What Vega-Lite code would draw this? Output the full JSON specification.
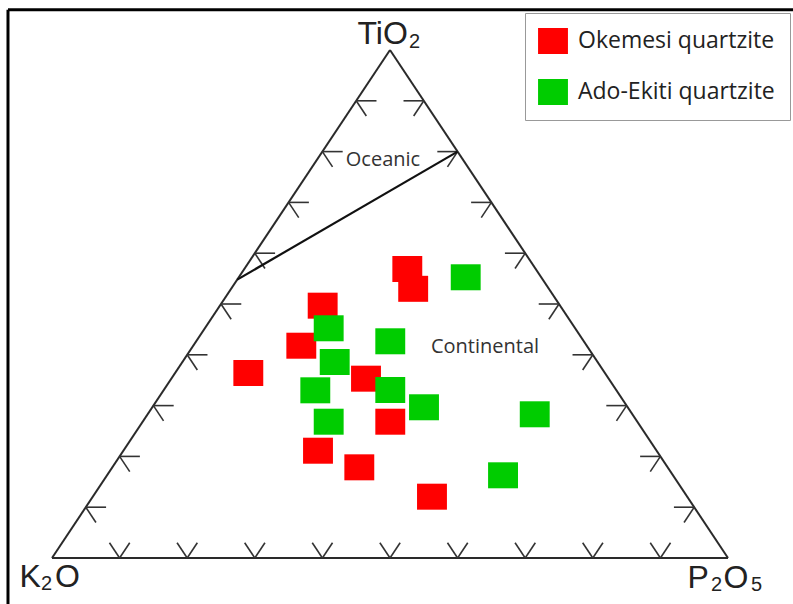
{
  "$schema": "https://vega.github.io/schema/vega-lite/v6.json",
  "width": 793,
  "height": 604,
  "padding": 0,
  "autosize": {"type": "none"},
  "background": "white",
  "config": {"view": {"stroke": null}},
  "datasets": {
    "frame": [
      {"x": -6.51, "y": 107.93, "x2": -6.51, "y2": -9.06},
      {"x": -6.51, "y": 107.93, "x2": 109.62, "y2": 107.93}
    ],
    "edges": [
      {"x": 0, "y": 0, "x2": 100, "y2": 0},
      {"x": 0, "y": 0, "x2": 50, "y2": 100},
      {"x": 100, "y": 0, "x2": 50, "y2": 100}
    ],
    "ticks": [
      {"x": 10, "y": 0, "x2": 8.5, "y2": 3}, {"x": 10, "y": 0, "x2": 11.5, "y2": 3},
      {"x": 20, "y": 0, "x2": 18.5, "y2": 3}, {"x": 20, "y": 0, "x2": 21.5, "y2": 3},
      {"x": 30, "y": 0, "x2": 28.5, "y2": 3}, {"x": 30, "y": 0, "x2": 31.5, "y2": 3},
      {"x": 40, "y": 0, "x2": 38.5, "y2": 3}, {"x": 40, "y": 0, "x2": 41.5, "y2": 3},
      {"x": 50, "y": 0, "x2": 48.5, "y2": 3}, {"x": 50, "y": 0, "x2": 51.5, "y2": 3},
      {"x": 60, "y": 0, "x2": 58.5, "y2": 3}, {"x": 60, "y": 0, "x2": 61.5, "y2": 3},
      {"x": 70, "y": 0, "x2": 68.5, "y2": 3}, {"x": 70, "y": 0, "x2": 71.5, "y2": 3},
      {"x": 80, "y": 0, "x2": 78.5, "y2": 3}, {"x": 80, "y": 0, "x2": 81.5, "y2": 3},
      {"x": 90, "y": 0, "x2": 88.5, "y2": 3}, {"x": 90, "y": 0, "x2": 91.5, "y2": 3},
      {"x": 5, "y": 10, "x2": 8, "y2": 10}, {"x": 5, "y": 10, "x2": 6.5, "y2": 7},
      {"x": 10, "y": 20, "x2": 13, "y2": 20}, {"x": 10, "y": 20, "x2": 11.5, "y2": 17},
      {"x": 15, "y": 30, "x2": 18, "y2": 30}, {"x": 15, "y": 30, "x2": 16.5, "y2": 27},
      {"x": 20, "y": 40, "x2": 23, "y2": 40}, {"x": 20, "y": 40, "x2": 21.5, "y2": 37},
      {"x": 25, "y": 50, "x2": 28, "y2": 50}, {"x": 25, "y": 50, "x2": 26.5, "y2": 47},
      {"x": 30, "y": 60, "x2": 33, "y2": 60}, {"x": 30, "y": 60, "x2": 31.5, "y2": 57},
      {"x": 35, "y": 70, "x2": 38, "y2": 70}, {"x": 35, "y": 70, "x2": 36.5, "y2": 67},
      {"x": 40, "y": 80, "x2": 43, "y2": 80}, {"x": 40, "y": 80, "x2": 41.5, "y2": 77},
      {"x": 45, "y": 90, "x2": 48, "y2": 90}, {"x": 45, "y": 90, "x2": 46.5, "y2": 87},
      {"x": 95, "y": 10, "x2": 92, "y2": 10}, {"x": 95, "y": 10, "x2": 93.5, "y2": 7},
      {"x": 90, "y": 20, "x2": 87, "y2": 20}, {"x": 90, "y": 20, "x2": 88.5, "y2": 17},
      {"x": 85, "y": 30, "x2": 82, "y2": 30}, {"x": 85, "y": 30, "x2": 83.5, "y2": 27},
      {"x": 80, "y": 40, "x2": 77, "y2": 40}, {"x": 80, "y": 40, "x2": 78.5, "y2": 37},
      {"x": 75, "y": 50, "x2": 72, "y2": 50}, {"x": 75, "y": 50, "x2": 73.5, "y2": 47},
      {"x": 70, "y": 60, "x2": 67, "y2": 60}, {"x": 70, "y": 60, "x2": 68.5, "y2": 57},
      {"x": 65, "y": 70, "x2": 62, "y2": 70}, {"x": 65, "y": 70, "x2": 63.5, "y2": 67},
      {"x": 60, "y": 80, "x2": 57, "y2": 80}, {"x": 60, "y": 80, "x2": 58.5, "y2": 77},
      {"x": 55, "y": 90, "x2": 52, "y2": 90}, {"x": 55, "y": 90, "x2": 53.5, "y2": 87}
    ],
    "divider": [
      {"x": 27.4, "y": 54.8, "x2": 60, "y2": 80}
    ],
    "regions": [
      {"x": 48.96, "y": 78.25, "label": "Oceanic"},
      {"x": 64.05, "y": 41.44, "label": "Continental"}
    ],
    "vertexMain": [
      {"x": 45.19, "y": 101.18, "label": "TiO"},
      {"x": -4.81, "y": -5.71, "label": "K"},
      {"x": 0.44, "y": -5.71, "label": "O"},
      {"x": 94.01, "y": -5.91, "label": "P"},
      {"x": 99.33, "y": -5.91, "label": "O"}
    ],
    "vertexSub": [
      {"x": 52.81, "y": 100.39, "label": "2"},
      {"x": -1.63, "y": -6.30, "label": "2"},
      {"x": 97.49, "y": -6.50, "label": "2"},
      {"x": 103.40, "y": -6.50, "label": "5"}
    ],
    "samples": [
      {"group": "Okemesi quartzite", "x": 52.56, "y": 56.89},
      {"group": "Okemesi quartzite", "x": 53.43, "y": 52.99},
      {"group": "Okemesi quartzite", "x": 40.04, "y": 49.67},
      {"group": "Okemesi quartzite", "x": 36.88, "y": 41.79},
      {"group": "Okemesi quartzite", "x": 29.04, "y": 36.42},
      {"group": "Okemesi quartzite", "x": 46.45, "y": 35.30},
      {"group": "Okemesi quartzite", "x": 50.04, "y": 26.83},
      {"group": "Okemesi quartzite", "x": 39.35, "y": 21.12},
      {"group": "Okemesi quartzite", "x": 45.46, "y": 17.85},
      {"group": "Okemesi quartzite", "x": 56.21, "y": 12.07},
      {"group": "Ado-Ekiti quartzite", "x": 61.20, "y": 55.26},
      {"group": "Ado-Ekiti quartzite", "x": 40.93, "y": 45.22},
      {"group": "Ado-Ekiti quartzite", "x": 50.04, "y": 42.66},
      {"group": "Ado-Ekiti quartzite", "x": 41.82, "y": 38.58},
      {"group": "Ado-Ekiti quartzite", "x": 38.95, "y": 33.01},
      {"group": "Ado-Ekiti quartzite", "x": 50.04, "y": 33.07},
      {"group": "Ado-Ekiti quartzite", "x": 55.03, "y": 29.67},
      {"group": "Ado-Ekiti quartzite", "x": 71.41, "y": 28.29},
      {"group": "Ado-Ekiti quartzite", "x": 40.93, "y": 26.83},
      {"group": "Ado-Ekiti quartzite", "x": 66.72, "y": 16.28}
    ]
  },
  "layer": [
    {
      "data": {"name": "frame"},
      "mark": {"type": "rule", "color": "#000000", "strokeWidth": 3},
      "encoding": {
        "x": {"field": "x", "type": "quantitative", "axis": null, "scale": {"domain": [-7.692, 109.615], "nice": false, "zero": false}},
        "y": {"field": "y", "type": "quantitative", "axis": null, "scale": {"domain": [-9.055, 109.843], "nice": false, "zero": false}},
        "x2": {"field": "x2"},
        "y2": {"field": "y2"}
      }
    },
    {
      "data": {"name": "edges"},
      "mark": {"type": "rule", "color": "#2a2a2a", "strokeWidth": 2},
      "encoding": {
        "x": {"field": "x", "type": "quantitative"},
        "y": {"field": "y", "type": "quantitative"},
        "x2": {"field": "x2"},
        "y2": {"field": "y2"}
      }
    },
    {
      "data": {"name": "ticks"},
      "mark": {"type": "rule", "color": "#333333", "strokeWidth": 1.6},
      "encoding": {
        "x": {"field": "x", "type": "quantitative"},
        "y": {"field": "y", "type": "quantitative"},
        "x2": {"field": "x2"},
        "y2": {"field": "y2"}
      }
    },
    {
      "data": {"name": "divider"},
      "mark": {"type": "rule", "color": "#111111", "strokeWidth": 2.2},
      "encoding": {
        "x": {"field": "x", "type": "quantitative"},
        "y": {"field": "y", "type": "quantitative"},
        "x2": {"field": "x2"},
        "y2": {"field": "y2"}
      }
    },
    {
      "data": {"name": "regions"},
      "mark": {"type": "text", "font": "Open Sans", "fontSize": 20, "color": "#333333", "baseline": "middle", "align": "center"},
      "encoding": {
        "x": {"field": "x", "type": "quantitative"},
        "y": {"field": "y", "type": "quantitative"},
        "text": {"field": "label"}
      }
    },
    {
      "data": {"name": "vertexMain"},
      "mark": {"type": "text", "font": "Liberation Sans", "fontSize": 32, "color": "#222222", "baseline": "alphabetic", "align": "left"},
      "encoding": {
        "x": {"field": "x", "type": "quantitative"},
        "y": {"field": "y", "type": "quantitative"},
        "text": {"field": "label"}
      }
    },
    {
      "data": {"name": "vertexSub"},
      "mark": {"type": "text", "font": "Liberation Sans", "fontSize": 20, "color": "#222222", "baseline": "alphabetic", "align": "left"},
      "encoding": {
        "x": {"field": "x", "type": "quantitative"},
        "y": {"field": "y", "type": "quantitative"},
        "text": {"field": "label"}
      }
    },
    {
      "data": {"name": "samples"},
      "mark": {"type": "point", "filled": true, "shape": "M-1.15,-1H1.15V1H-1.15Z", "size": 676, "opacity": 1, "strokeWidth": 0},
      "encoding": {
        "x": {"field": "x", "type": "quantitative"},
        "y": {"field": "y", "type": "quantitative"},
        "color": {
          "field": "group",
          "type": "nominal",
          "scale": {"domain": ["Okemesi quartzite", "Ado-Ekiti quartzite"], "range": ["#ff0000", "#00cc00"]},
          "legend": {
            "title": null,
            "orient": "none",
            "legendX": 525,
            "legendY": 13,
            "padding": 15,
            "strokeColor": "#999999",
            "fillColor": "#ffffff",
            "symbolType": "M-1.15,-1H1.15V1H-1.15Z",
            "symbolSize": 676,
            "symbolStrokeWidth": 0,
            "symbolOpacity": 1,
            "labelFont": "Open Sans",
            "labelFontSize": 23,
            "labelLimit": 400,
            "labelColor": "#222222",
            "labelOffset": 12,
            "rowPadding": 25,
            "encode": {
              "symbols": {
                "update": {
                  "fill": {"signal": "datum.value === 'Okemesi quartzite' ? '#ff2400' : '#00ee00'"}
                }
              }
            }
          }
        }
      }
    }
  ]
}
